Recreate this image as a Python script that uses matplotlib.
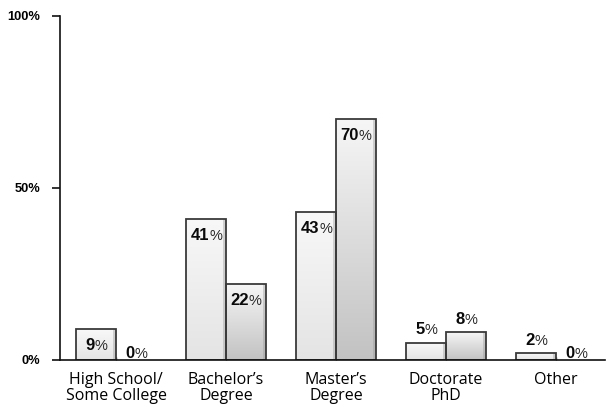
import numpy as np
import matplotlib
matplotlib.use("Agg")
import matplotlib.pyplot as plt
from matplotlib.colors import LinearSegmentedColormap

categories = ["High School/\nSome College", "Bachelor\u2019s\nDegree", "Master\u2019s\nDegree",
              "Doctorate\nPhD", "Other"]
series_a = [9, 41, 43, 5, 2]
series_b = [0, 22, 70, 8, 0]
y_ticks = [0, 50, 100]
y_tick_labels = ["0%", "50%", "100%"]

fig = plt.figure(figsize=(6.1, 4.08), dpi=100)
ax = fig.add_axes([60 / 610, 48 / 408, 545 / 610, 344 / 408])

x = np.arange(len(categories))
width = 0.36

cmap_a = LinearSegmentedColormap.from_list("ga", ["#f8f8f8", "#e4e4e4"])
cmap_b = LinearSegmentedColormap.from_list("gb", ["#f6f6f6", "#c2c2c2"])


def draw_series(xpos, vals, cmap):
    bars = ax.bar(xpos, vals, width, facecolor="none", edgecolor="#3a3a3a",
                  linewidth=1.3, zorder=3)
    grad = np.linspace(0, 1, 256).reshape(-1, 1)
    for rect, v in zip(bars, vals):
        if v <= 0:
            rect.set_visible(False)
            continue
        x0, w = rect.get_x(), rect.get_width()
        im = ax.imshow(grad, cmap=cmap, aspect="auto", origin="upper",
                       extent=[x0, x0 + w, 0, v], zorder=2)
        im.set_clip_path(rect)
        # thin shaded strip along the right side
        ax.fill_between([x0 + w * 0.93, x0 + w], 0, v, color="#9a9a9a",
                        alpha=0.4, linewidth=0, zorder=2.5)
    return bars


bars_a = draw_series(x - width / 2, series_a, cmap_a)
bars_b = draw_series(x + width / 2, series_b, cmap_b)

NUM_SIZE = 12
PCT_SIZE = 10.5


def label(xc, v):
    digits = str(v)
    w_num = 0.556 * NUM_SIZE * len(digits)
    w_pct = 0.889 * PCT_SIZE * 0.92
    total = w_num + w_pct
    split = w_num - total / 2  # x offset (points) where digits end and % begins
    if v >= 9:
        dy = -15
    elif v > 0:
        dy = 6
    else:
        dy = 1.5
    ax.annotate(digits, (xc, v), xytext=(split, dy), textcoords="offset points",
                ha="right", va="baseline", fontsize=NUM_SIZE, fontweight="bold",
                family="Liberation Sans", color="#0a0a0a", zorder=5)
    ax.annotate("%", (xc, v), xytext=(split - 0.3, dy), textcoords="offset points",
                ha="left", va="baseline", fontsize=PCT_SIZE,
                family="Liberation Sans", color="#2a2a2a", zorder=5)


for xc, v in zip(x - width / 2, series_a):
    label(xc, v)
for xc, v in zip(x + width / 2, series_b):
    label(xc, v)

ax.set_ylim(0, 100)
ax.set_xlim(-56 / 110, 489 / 110)

ax.set_yticks(y_ticks)
ax.set_yticklabels(y_tick_labels, fontsize=9.3, fontweight="bold",
                   family="Liberation Sans")
ax.tick_params(axis="y", direction="out", length=6, width=1.2, pad=8,
               color="#111111")

ax.set_xticks(x)
ax.set_xticklabels(categories, fontsize=11.5, family="Open Sans",
                   linespacing=0.95)
ax.tick_params(axis="x", direction="in", length=2, width=1, pad=9,
               color="#333333")

for side in ("top", "right"):
    ax.spines[side].set_visible(False)
for side in ("left", "bottom"):
    ax.spines[side].set_linewidth(1.2)
    ax.spines[side].set_color("#111111")
    ax.spines[side].set_zorder(4)

fig.savefig("out.png", dpi=100)
